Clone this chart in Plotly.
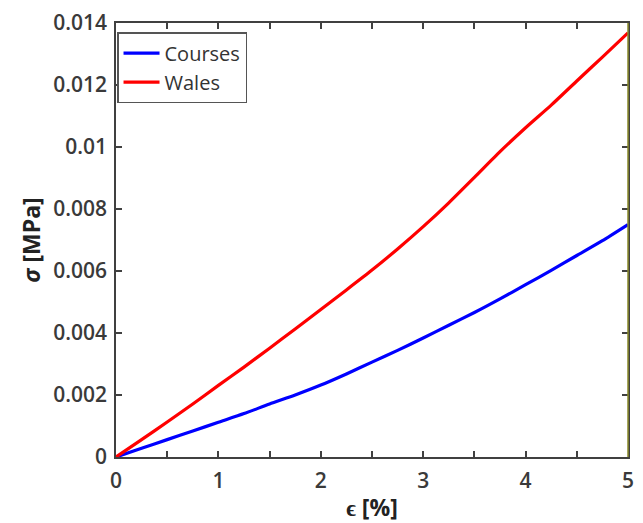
import plotly.graph_objects as go

# strain [%] and stress [MPa] for the two fabric directions
strain = [0, 0.25, 0.5, 0.75, 1.0, 1.25, 1.5, 1.75, 2.0, 2.25, 2.5, 2.75,
          3.0, 3.25, 3.5, 3.75, 4.0, 4.25, 4.5, 4.75, 5.0]
courses = [0, 0.00028, 0.00056, 0.00084, 0.00112, 0.0014, 0.00171, 0.002,
           0.00232, 0.00268, 0.00306, 0.00344, 0.00384, 0.00425, 0.00466,
           0.0051, 0.00556, 0.00602, 0.0065, 0.00698, 0.0075]
wales = [0, 0.00056, 0.00113, 0.00171, 0.00231, 0.0029, 0.00351, 0.00413,
         0.00476, 0.00539, 0.00603, 0.00671, 0.00743, 0.0082, 0.00902,
         0.00985, 0.01062, 0.01135, 0.01213, 0.0129, 0.01368]

y_ticks = [0, 0.002, 0.004, 0.006, 0.008, 0.01, 0.012, 0.014]
y_labels = ["0", "0.002", "0.004", "0.006", "0.008", "0.01", "0.012", "0.014"]

axis_col = "#404040"
text_col = "#3a3a3a"

fig = go.Figure()
fig.add_trace(go.Scatter(x=strain, y=courses, mode="lines", name="Courses",
                         line=dict(color="#0000ff", width=3.2, shape="spline",
                                   smoothing=0.6)))
fig.add_trace(go.Scatter(x=strain, y=wales, mode="lines", name="Wales",
                         line=dict(color="#ff0000", width=3.2, shape="spline",
                                   smoothing=0.6)))

fig.update_layout(
    width=643, height=523,
    margin=dict(l=116, r=15, t=23, b=66),
    paper_bgcolor="white", plot_bgcolor="white",
    font=dict(family="Open Sans", color=text_col),
    showlegend=True,
    legend=dict(x=0.002, y=0.979, xanchor="left", yanchor="top",
                bgcolor="white", bordercolor="#555555", borderwidth=1.5,
                font=dict(size=20, color="#333333"),
                itemwidth=36, tracegroupgap=0),
    xaxis=dict(range=[0, 5], dtick=1, ticks="inside", ticklen=6,
               tickwidth=1.5, tickcolor=axis_col, ticklabelstandoff=4,
               automargin=False,
               showline=True, linecolor=axis_col, linewidth=1.5, mirror="ticks",
               showgrid=False, zeroline=False,
               minor=dict(dtick=0.5, ticks="inside", ticklen=6, tickcolor=axis_col,
                          showgrid=False),
               tickfont=dict(size=21, weight=600, color=text_col),
               title=dict(text="ϵ [%]", standoff=10,
                          font=dict(size=23, weight=700, color="#222222"))),
    yaxis=dict(range=[0, 0.014], tickvals=y_ticks, ticktext=y_labels,
               ticks="inside", ticklen=6, tickwidth=1.5, tickcolor=axis_col,
               ticklabelstandoff=3, automargin=False,
               showline=True, linecolor=axis_col, linewidth=1.5, mirror="ticks",
               showgrid=False, zeroline=False,
               tickfont=dict(size=21, weight=600, color=text_col),
               title=dict(text="<i>σ</i> [MPa]", standoff=6,
                          font=dict(size=23, weight=700, color="#222222"))),
)

# right-hand frame edge drawn in olive
fig.add_shape(type="line", xref="x domain", yref="y domain",
              x0=1, x1=1, y0=0, y1=1,
              line=dict(color="#8a8a2a", width=1.5))

fig.write_html("out.html")
